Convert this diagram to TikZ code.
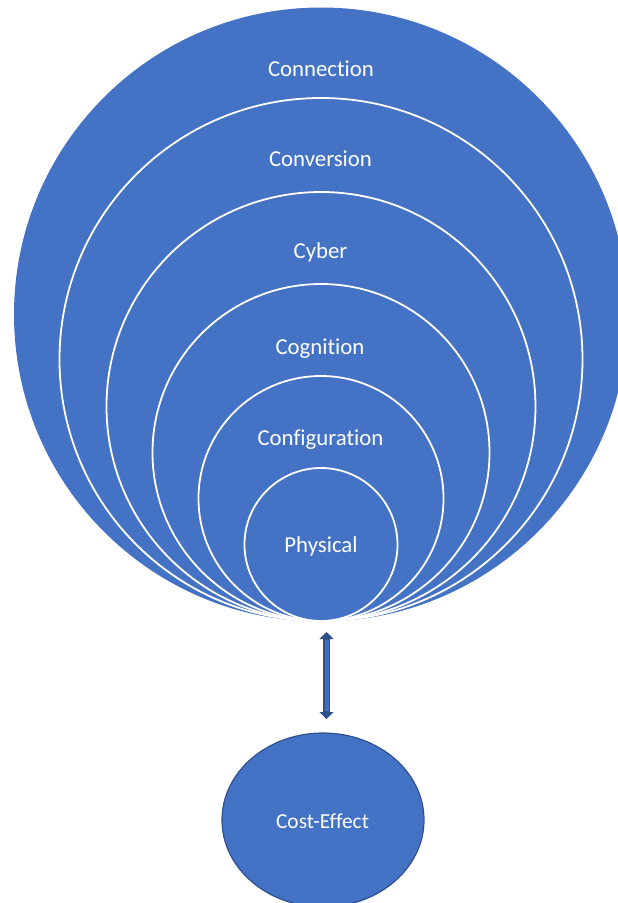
\documentclass[tikz,border=0pt]{standalone}
\usepackage{fontspec}
\setmainfont[Ligatures=NoCommon]{Carlito}
\usetikzlibrary{arrows.meta,shapes.geometric}
\definecolor{ofblue}{HTML}{4472C4}
\definecolor{ofdark}{HTML}{2F528F}
\tikzset{
  ring/.style={circle, fill=ofblue, draw=white, line width=1.8pt, inner sep=0pt},
  lbl/.style={text=white, font=\fontsize{22.8}{26}\selectfont, inner sep=0pt, anchor=base},
}
\begin{document}
\begin{tikzpicture}[x=1pt,y=-1pt]
\useasboundingbox (0,0) rectangle (618,903);
\begin{scope}
\clip (0,0) rectangle (618,903);
\fill[ofblue] (321,314.5) circle (307);
\node[ring, minimum size=523pt] (c2) at (321,359.5) {};
\node[ring, minimum size=429pt] (c3) at (321,406.5) {};
\node[ring, minimum size=337pt] (c4) at (321,452.5) {};
\node[ring, minimum size=245pt] (c5) at (321,498.5) {};
\node[ring, minimum size=153pt] (c6) at (321,544.5) {};
\node[ellipse, fill=ofblue, draw=ofdark, line width=1.2pt, minimum width=202pt, minimum height=174pt, inner sep=0pt] (ce) at (323,820) {};
\end{scope}
\node[lbl] (t1) at (321,76) {Connection};
\node[lbl] (t2) at (320.5,166) {Conversion};
\node[lbl] (t3) at (320.5,258) {Cyber};
\node[lbl] (t4) at (320,354) {Cognition};
\node[lbl] (t5) at (320.5,445) {Configuration};
\node[lbl] (t6) at (321,552.5) {Physical};
\node[lbl, font=\fontsize{21.4}{24}\selectfont] (t7) at (322.5,828) {Cost-Effect};
\coordinate (a1) at (326.5,632);
\coordinate (a2) at (326.5,719);
\draw[ofdark, line width=7pt, {Triangle[width=14pt,length=7pt]}-{Triangle[width=14pt,length=7pt]}] (a1) -- (a2);
\draw[ofblue!85!ofdark, line width=4pt, shorten <=8pt, shorten >=8pt] (a1) -- (a2);
\end{tikzpicture}
\end{document}
